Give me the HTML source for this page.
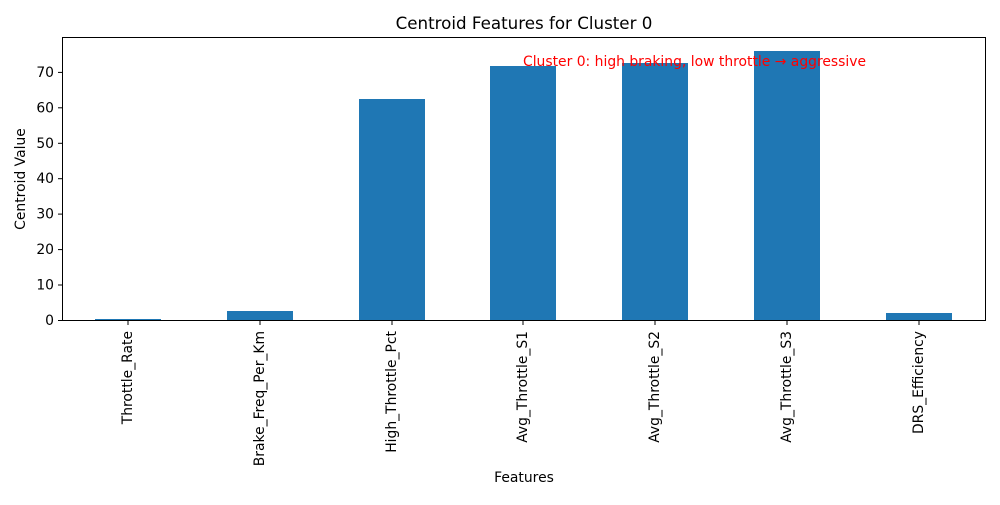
<!DOCTYPE html>
<html><head><meta charset="utf-8"><style>html,body{margin:0;padding:0;background:#fff}</style></head>
<body>
<svg width="1000" height="500" xmlns="http://www.w3.org/2000/svg" font-family="DejaVu Sans, Liberation Sans, sans-serif">
<rect width="1000" height="500" fill="#fff"/>
<g fill="#1f77b4">
<rect x="95" y="319" width="66" height="1"/>
<rect x="227" y="311" width="66" height="9"/>
<rect x="359" y="99" width="66" height="221"/>
<rect x="490" y="66" width="66" height="254"/>
<rect x="622" y="63" width="66" height="257"/>
<rect x="754" y="51" width="66" height="269"/>
<rect x="886" y="313" width="66" height="7"/>
</g>
<rect x="62.5" y="37.5" width="923" height="283" fill="none" stroke="#000" stroke-width="1"/>
<g stroke="#000" stroke-width="1">
<line x1="58" x2="62" y1="320.5" y2="320.5"/><line x1="58" x2="62" y1="285" y2="285"/><line x1="58" x2="62" y1="249.6" y2="249.6"/><line x1="58" x2="62" y1="214.1" y2="214.1"/><line x1="58" x2="62" y1="178.7" y2="178.7"/><line x1="58" x2="62" y1="143.3" y2="143.3"/><line x1="58" x2="62" y1="107.8" y2="107.8"/><line x1="58" x2="62" y1="72.4" y2="72.4"/>
<line y1="321" y2="325" x1="128" x2="128"/><line y1="321" y2="325" x1="260" x2="260"/><line y1="321" y2="325" x1="392" x2="392"/><line y1="321" y2="325" x1="523" x2="523"/><line y1="321" y2="325" x1="655" x2="655"/><line y1="321" y2="325" x1="787" x2="787"/><line y1="321" y2="325" x1="919" x2="919"/>
</g>
<g font-size="13.9" text-anchor="end" fill="#000">
<text x="54" y="325">0</text><text x="54" y="289.5">10</text><text x="54" y="254">20</text><text x="54" y="218.6">30</text><text x="54" y="183.2">40</text><text x="54" y="147.8">50</text><text x="54" y="112.3">60</text><text x="54" y="76.9">70</text>
</g>
<g font-size="13.9" text-anchor="end" fill="#000">
<text transform="translate(132,331) rotate(-90)">Throttle_Rate</text>
<text transform="translate(264,331) rotate(-90)">Brake_Freq_Per_Km</text>
<text transform="translate(396,331) rotate(-90)">High_Throttle_Pct</text>
<text transform="translate(527,331) rotate(-90)">Avg_Throttle_S1</text>
<text transform="translate(659,331) rotate(-90)">Avg_Throttle_S2</text>
<text transform="translate(791,331) rotate(-90)">Avg_Throttle_S3</text>
<text transform="translate(923,331) rotate(-90)">DRS_Efficiency</text>
</g>
<text x="524" y="29" font-size="16.7" text-anchor="middle">Centroid Features for Cluster 0</text>
<text x="524" y="482" font-size="13.9" text-anchor="middle">Features</text>
<text transform="translate(25,179) rotate(-90)" font-size="13.9" text-anchor="middle">Centroid Value</text>
<text x="523" y="66" font-size="13.9" fill="#ff0000">Cluster 0: high braking, low throttle → aggressive</text>
</svg>
</body></html>
